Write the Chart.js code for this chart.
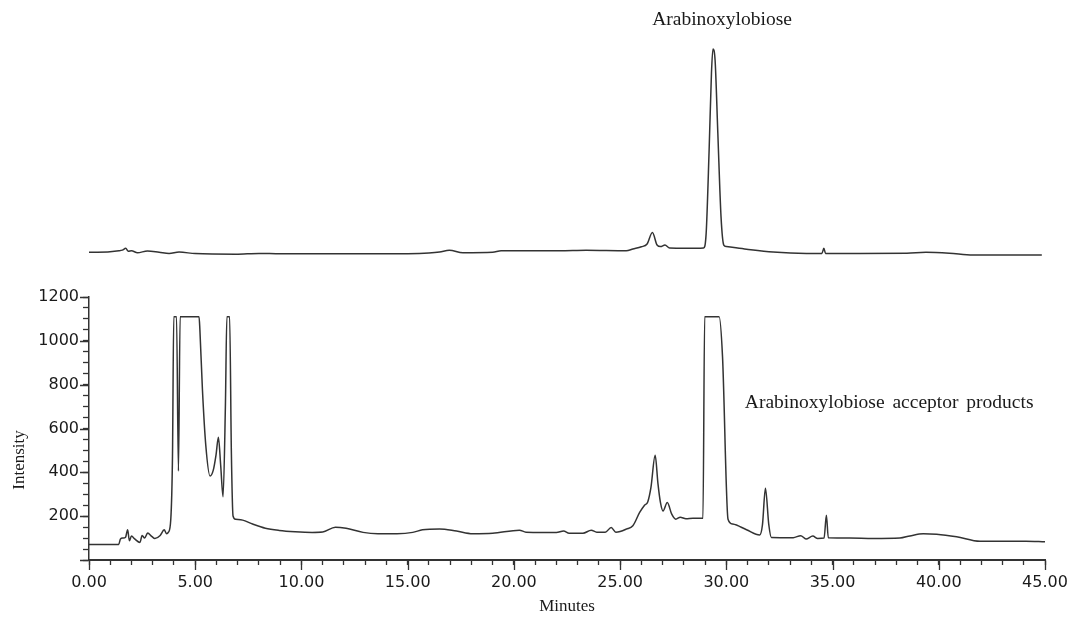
<!DOCTYPE html>
<html>
<head>
<meta charset="utf-8">
<script src="https://cdn.jsdelivr.net/npm/chart.js@4"></script>
<style>
  html, body { margin: 0; padding: 0; background: #fff; }
  #wrap { position: relative; width: 1067px; height: 617px; }
  canvas { position: absolute; left: 0; }
  #topChart { top: 0; }
  #bottomChart { top: 270px; }
</style>
</head>
<body>
<div id="wrap">
  <canvas id="topChart" width="1067" height="270"></canvas>
  <canvas id="bottomChart" width="1067" height="347"></canvas>
</div>
<script>
// standard: arabinoxylobiose (relative response, top trace)
const stdMinutes = [0, 0.4, 1.41, 1.57, 1.73, 1.85, 2.0, 2.28, 2.75, 3.3, 3.77, 4.24, 5.0, 6.91, 8.0, 9.0,
  13.67, 16.0, 16.5, 16.96, 17.6, 19.0, 19.4, 22.15, 23.4, 25.29, 25.6, 26.0, 26.27, 26.52, 26.74, 26.9,
  27.11, 27.33, 28.1, 28.93, 29.05, 29.19, 29.3, 29.37, 29.47, 29.6, 29.75, 29.88, 30.0, 30.95, 32.2,
  33.77, 34.5, 34.59, 34.67, 36.29, 38.5, 39.4, 40.5, 41.6, 44.85];
const stdSignal = [3.5, 3.5, 4.2, 4.5, 5.3, 4.0, 4.2, 3.3, 4.1, 3.5, 2.9, 3.6, 2.9, 2.6, 3.0, 2.8,
  2.8, 3.2, 3.6, 4.4, 3.3, 3.5, 4.2, 4.2, 4.4, 4.2, 5.0, 6.0, 7.3, 12.5, 6.8, 6.1,
  6.8, 5.4, 5.3, 5.5, 12.1, 50, 85, 95.9, 90.9, 57.6, 19.7, 6.8, 6.1, 4.9, 3.6,
  3.0, 3.0, 5.3, 3.0, 3.0, 3.1, 3.5, 3.1, 2.3, 2.3];

// reaction: acceptor products (intensity, bottom trace)
const rxnMinutes = [0, 1.40, 1.48, 1.6, 1.72, 1.82, 1.90, 2.0, 2.15, 2.4, 2.5, 2.62, 2.76, 2.95, 3.1, 3.35,
  3.54, 3.65, 3.74, 3.85, 3.93, 3.99, 4.12, 4.21, 4.29, 5.18, 5.22, 5.34, 5.5, 5.7, 5.85, 5.98, 6.09,
  6.2, 6.31, 6.42, 6.49, 6.62, 6.70, 6.78, 6.9, 7.23, 7.7, 8.3, 8.95, 9.7, 10.5, 11.0, 11.6, 12.1,
  12.9, 13.6, 14.5, 15.24, 15.7, 16.5, 17.3, 18.06, 19.0, 20.26, 20.57, 21.52, 22.0, 22.34, 22.6,
  23.25, 23.64, 23.9, 24.3, 24.58, 24.8, 25.0, 25.29, 25.6, 25.92, 26.15, 26.3, 26.45, 26.65, 26.78,
  26.9, 27.02, 27.22, 27.43, 27.62, 27.83, 28.1, 28.43, 28.9, 28.98, 29.66, 29.82, 30.08, 30.3,
  30.95, 31.57, 31.7, 31.84, 32.0, 32.12, 33.15, 33.5, 33.75, 34.07, 34.3, 34.6, 34.71, 34.8, 35.8,
  36.9, 38.17, 38.64, 39.27, 39.9, 40.84, 41.94, 42.88, 44.1, 45.0];
const rxnIntensity = [71, 71, 96, 100, 104, 138, 88, 109, 96, 80, 112, 100, 123, 108, 98, 112,
  138, 120, 127, 186, 474, 1110, 1110, 406, 1110, 1110, 1050, 777, 520, 383, 410, 480, 560,
  430, 289, 700, 1110, 1110, 500, 201, 186, 182, 164, 145, 135, 129, 126, 128, 150, 145,
  126, 120, 120, 126, 138, 142, 132, 120, 122, 136, 127, 126, 125, 132, 122,
  122, 136, 127, 127, 148, 127, 130, 141, 156, 217, 250, 265, 330, 478, 350,
  262, 224, 262, 209, 186, 195, 188, 191, 190, 1110, 1110, 929, 186, 164,
  138, 114, 160, 327, 160, 103, 102, 111, 96, 109, 98, 100, 204, 101, 100,
  98, 100, 110, 120, 118, 106, 85, 85, 86, 83];

const xMin = 0, xMax = 45;
const yMin = 0, yMax = 1200;

const lineColor = '#333';
const serif = '"Liberation Serif", "Times New Roman", serif';
const sans = '"DejaVu Sans", Verdana, sans-serif';

function toPoints(xs, ys) {
  return xs.map((x, i) => ({ x: x, y: ys[i] }));
}

// text labels placed in data coordinates
const notesPlugin = {
  id: 'notes',
  afterDraw(chart) {
    const notes = chart.options.plugins.notes || [];
    const ctx = chart.ctx;
    ctx.save();
    notes.forEach(n => {
      ctx.font = n.font;
      ctx.fillStyle = '#1a1a1a';
      ctx.textAlign = n.align || 'center';
      ctx.textBaseline = 'middle';
      if ('wordSpacing' in ctx) ctx.wordSpacing = n.wordSpacing || '0px';
      const px = n.px != null ? n.px : chart.scales.x.getPixelForValue(n.x);
      const py = n.py != null ? n.py : chart.scales.y.getPixelForValue(n.y);
      if (n.rotate) {
        ctx.save();
        ctx.translate(px, py);
        ctx.rotate(n.rotate);
        ctx.fillText(n.text, 0, 0);
        ctx.restore();
      } else {
        ctx.fillText(n.text, px, py);
      }
    });
    ctx.restore();
  }
};

// longer tick marks at the labelled values
const majorTicks = {
  id: 'majorTicks',
  afterDraw(chart) {
    const { ctx, chartArea, scales } = chart;
    ctx.save();
    ctx.strokeStyle = lineColor;
    ctx.lineWidth = 1.3;
    ctx.beginPath();
    scales.x.ticks.forEach(t => {
      if (Math.round(t.value * 100) % 500 === 0) {
        const px = Math.round(scales.x.getPixelForValue(t.value)) + 0.5;
        ctx.moveTo(px, chartArea.bottom);
        ctx.lineTo(px, chartArea.bottom + 10);
      }
    });
    scales.y.ticks.forEach(t => {
      if (t.value % 200 === 0) {
        const py = Math.round(scales.y.getPixelForValue(t.value)) + 0.5;
        ctx.moveTo(chartArea.left - 9, py);
        ctx.lineTo(chartArea.left, py);
      }
    });
    ctx.stroke();
    ctx.restore();
  }
};

const lineStyle = {
  borderColor: lineColor,
  borderWidth: 1.5,
  pointRadius: 0,
  fill: false,
  cubicInterpolationMode: 'monotone'
};

new Chart(document.getElementById('topChart'), {
  type: 'line',
  data: {
    datasets: [Object.assign({ label: 'Arabinoxylobiose', data: toPoints(stdMinutes, stdSignal) }, lineStyle)]
  },
  options: {
    responsive: false,
    animation: false,
    layout: { padding: { left: 89, right: 22, top: 40, bottom: 10 } },
    scales: {
      x: { type: 'linear', min: xMin, max: xMax, display: false },
      y: { min: 0, max: 100, display: false }
    },
    plugins: {
      legend: { display: false },
      tooltip: { enabled: false },
      notes: [
        { text: 'Arabinoxylobiose', x: 29.8, py: 20, font: '19.5px ' + serif }
      ]
    }
  },
  plugins: [notesPlugin]
});

new Chart(document.getElementById('bottomChart'), {
  type: 'line',
  data: {
    datasets: [Object.assign({ label: 'Acceptor products', data: toPoints(rxnMinutes, rxnIntensity) }, lineStyle)]
  },
  options: {
    responsive: false,
    animation: false,
    layout: { padding: { left: 0, right: 0, top: 27, bottom: 0 } },
    scales: {
      x: {
        type: 'linear',
        min: xMin,
        max: xMax,
        afterFit: s => { s.height = 57; s.paddingRight = 22; s.paddingLeft = 0; },
        border: { display: true, color: lineColor, width: 2 },
        grid: { drawOnChartArea: false, drawTicks: true, tickLength: 5, tickColor: lineColor, tickWidth: 1.3 },
        ticks: {
          stepSize: 1,
          autoSkip: false,
          maxRotation: 0,
          padding: 8,
          color: '#1a1a1a',
          font: { family: sans, size: 16 },
          callback: v => (Math.round(v * 100) % 500 === 0 ? v.toFixed(2) : '')
        },
        title: {
          display: true,
          text: 'Minutes',
          color: '#1a1a1a',
          font: { family: serif, size: 17 },
          padding: { top: 0, bottom: 0 }
        }
      },
      y: {
        min: yMin,
        max: yMax,
        afterFit: s => { s.width = 89; },
        border: { display: true, color: lineColor, width: 1.5 },
        grid: { drawOnChartArea: false, drawTicks: true, tickLength: 6, tickColor: lineColor, tickWidth: 1.3 },
        ticks: {
          stepSize: 50,
          autoSkip: false,
          padding: 4,
          color: '#1a1a1a',
          font: { family: sans, size: 16 },
          callback: v => (v > 0 && v % 200 === 0 ? String(v) : '')
        }
      }
    },
    plugins: {
      legend: { display: false },
      tooltip: { enabled: false },
      notes: [
        { text: 'Arabinoxylobiose acceptor products', x: 30.87, y: 718, align: 'left', font: '19.5px ' + serif, wordSpacing: '3px' },
        { text: 'Intensity', px: 20, py: 190, rotate: -Math.PI / 2, font: '17px ' + serif }
      ]
    }
  },
  plugins: [notesPlugin, majorTicks]
});
</script>
</body>
</html>
